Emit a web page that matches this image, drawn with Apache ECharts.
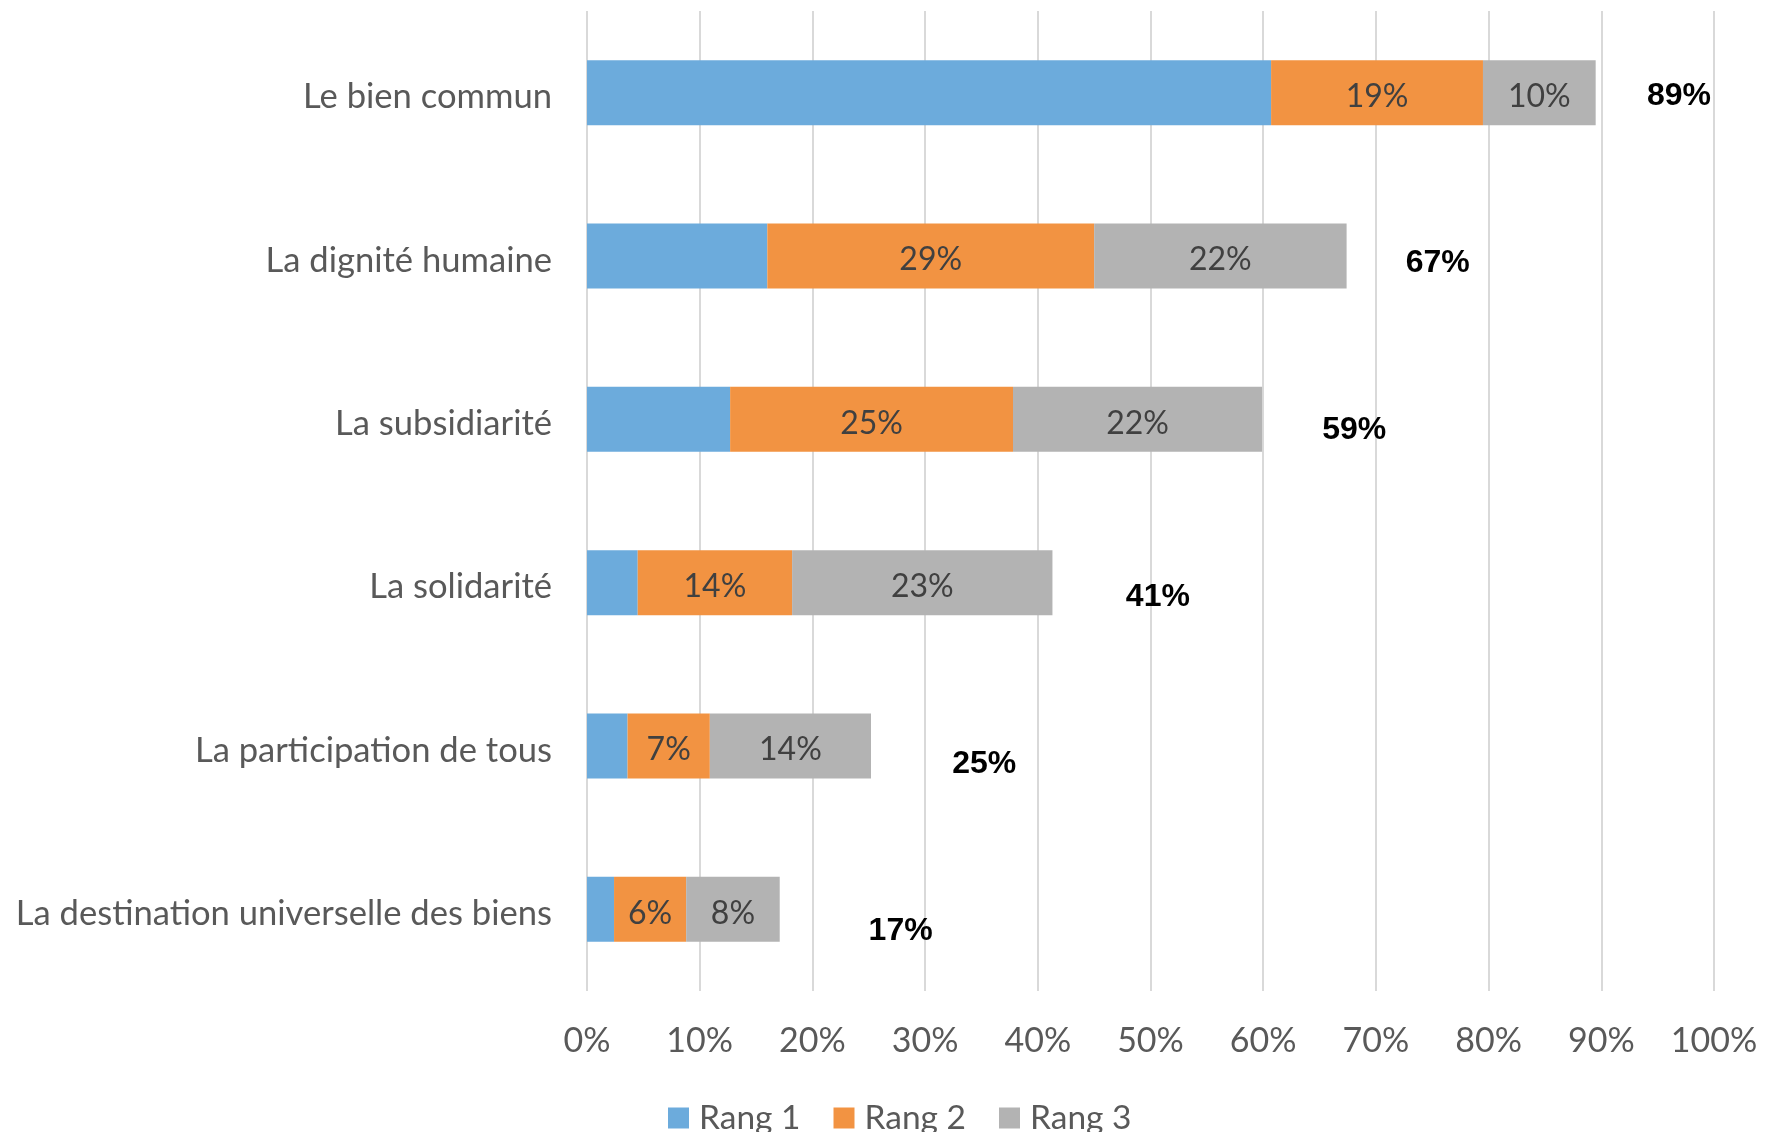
<!DOCTYPE html>
<html>
<head>
<meta charset="utf-8">
<script src="https://cdn.jsdelivr.net/npm/echarts@6/dist/echarts.min.js"></script>
<style>
  html, body { margin: 0; padding: 0; background: #fff; }
  #chart { width: 1782px; height: 1132px; }
</style>
</head>
<body>
<div id="chart"></div>
<script>
var myChart = echarts.init(document.getElementById('chart'));

var categories = [
  'Le bien commun',
  'La dignité humaine',
  'La subsidiarité',
  'La solidarité',
  'La participation de tous',
  'La destination universelle des biens'
];
var seriesNames = ['Rang 1', 'Rang 2', 'Rang 3'];
// parts of the stack, in percent
var rang1 = [60.7, 16.0, 12.7, 4.5, 3.6, 2.4];
var rang2 = [18.8, 29.0, 25.1, 13.7, 7.3, 6.4];
var rang3 = [10.0, 22.4, 22.1, 23.1, 14.3, 8.3];
// totals written to the right of each bar
var totals = [89, 67, 59, 41, 25, 17];
var xTicks = [0, 10, 20, 30, 40, 50, 60, 70, 80, 90, 100];

var textFont = 'Lato';
var barW = 65;

function pct(p) {
  return Math.round(p.value) + '%';
}

var insideLabel = {
  show: true,
  position: 'inside',
  offset: [0, 4],
  color: '#404040',
  fontFamily: textFont,
  fontSize: 32,
  formatter: pct
};

var option = {
  animation: false,
  color: ['#6CABDC', '#F29342', '#B3B3B3'],
  grid: {
    left: 587,
    right: 68,
    top: 11,
    bottom: 141
  },
  legend: {
    data: seriesNames,
    top: 1096,
    left: 663,
    icon: 'rect',
    itemWidth: 21,
    itemHeight: 21,
    itemGap: 33,
    textStyle: {
      color: '#595959',
      fontFamily: textFont,
      fontSize: 33.5,
      padding: [0, 0, 0, 5]
    }
  },
  xAxis: {
    type: 'value',
    min: 0,
    max: 100,
    interval: 10,
    axisLine: { show: false },
    axisTick: { show: false },
    splitLine: { lineStyle: { color: '#D9D9D9', width: 2 } },
    axisLabel: {
      margin: 33,
      color: '#595959',
      fontFamily: textFont,
      fontSize: 34,
      formatter: function (v) {
        return xTicks.indexOf(v) >= 0 ? v + '%' : '';
      }
    }
  },
  yAxis: {
    type: 'category',
    data: categories,
    inverse: true,
    axisLine: { show: false },
    axisTick: { show: false },
    axisLabel: {
      margin: 35,
      formatter: function (v) {
        return '{c|' + v + '}';
      },
      rich: {
        c: {
          color: '#595959',
          fontFamily: textFont,
          fontSize: 34.6,
          lineHeight: 44,
          verticalAlign: 'bottom'
        }
      }
    }
  },
  series: [
    {
      name: seriesNames[0],
      type: 'bar',
      stack: 'rang',
      barWidth: barW,
      barGap: '-100%',
      data: rang1
    },
    {
      name: seriesNames[1],
      type: 'bar',
      stack: 'rang',
      barWidth: barW,
      barGap: '-100%',
      label: insideLabel,
      data: rang2
    },
    {
      name: seriesNames[2],
      type: 'bar',
      stack: 'rang',
      barWidth: barW,
      barGap: '-100%',
      label: insideLabel,
      data: rang3
    },
    {
      name: 'Total',
      type: 'bar',
      barWidth: barW,
      barGap: '-100%',
      silent: true,
      itemStyle: { color: 'rgba(0,0,0,0)' },
      data: totals.map(function (t, i) {
        return {
          value: t,
          label: { offset: [57 + 6.6 * i, 4 + 3.5 * i] }
        };
      }),
      label: {
        show: true,
        position: 'right',
        distance: 0,
        color: '#000',
        fontFamily: 'Liberation Sans',
        fontWeight: 'bold',
        fontSize: 32,
        formatter: pct
      }
    }
  ]
};

option && myChart.setOption(option);
</script>
</body>
</html>
